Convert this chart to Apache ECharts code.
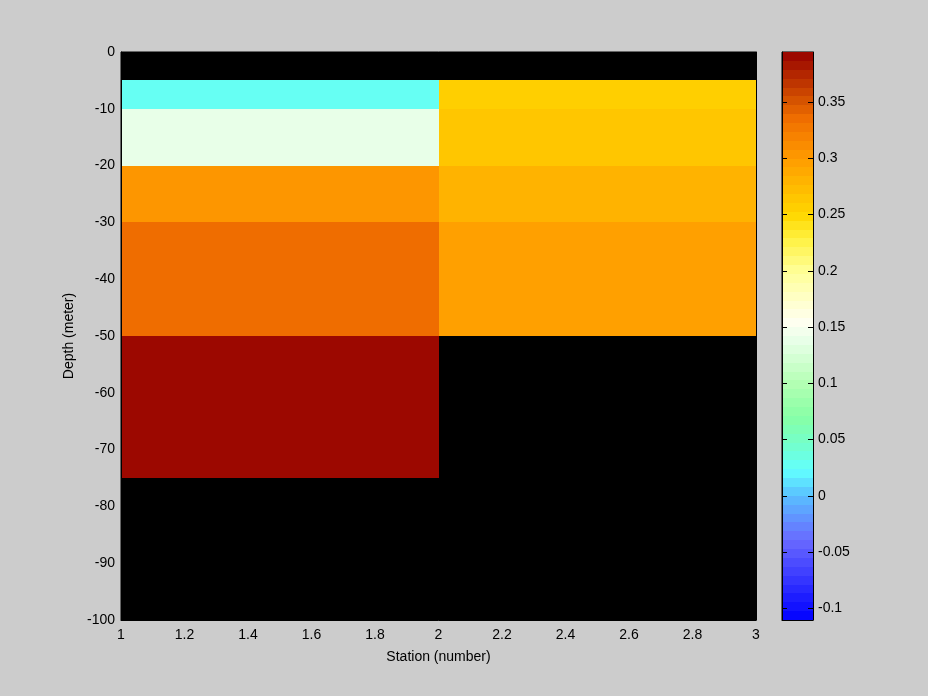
<!DOCTYPE html>
<html>
<head>
<meta charset="utf-8">
<script src="https://cdn.jsdelivr.net/npm/echarts@6/dist/echarts.min.js"></script>
<style>
html,body{margin:0;padding:0;background:#cccccc;}
#chart{width:928px;height:696px;}
</style>
</head>
<body>
<div id="chart"></div>
<script>
// ---- data ----
const stationEdges = [1, 2, 3];
const depthEdges = [0, -5, -10, -20, -30, -50, -75, -100];
const station1Values = [null, 0.024, 0.14, 0.307, 0.335, 0.39, null];
const station2Values = [null, 0.255, 0.268, 0.28, 0.297, null, null];
const xTickValues = [1, 1.2, 1.4, 1.6, 1.8, 2, 2.2, 2.4, 2.6, 2.8, 3];
const yTickValues = [0, -10, -20, -30, -40, -50, -60, -70, -80, -90, -100];
const colorbarTicks = [-0.1, -0.05, 0, 0.05, 0.1, 0.15, 0.2, 0.25, 0.3, 0.35];
const cMin = -0.1104;
const cMax = 0.3946;

// ---- colormap (64 levels, interpolated between anchor colours) ----
const anchors = [
  [-0.1104, [0, 0, 255]],
  [-0.04, [105, 105, 255]],
  [0.0, [90, 190, 255]],
  [0.022, [98, 255, 255]],
  [0.045, [115, 255, 205]],
  [0.07, [135, 255, 165]],
  [0.10, [180, 255, 180]],
  [0.14, [235, 255, 235]],
  [0.155, [255, 255, 240]],
  [0.2, [255, 255, 150]],
  [0.23, [255, 240, 60]],
  [0.25, [255, 215, 0]],
  [0.3, [255, 155, 0]],
  [0.335, [240, 110, 0]],
  [0.35, [215, 85, 0]],
  [0.3946, [150, 0, 0]]
];
const NLEV = 64;
function interpColor(v) {
  if (v <= anchors[0][0]) return anchors[0][1];
  for (let i = 1; i < anchors.length; i++) {
    if (v <= anchors[i][0]) {
      const a = anchors[i - 1], b = anchors[i];
      const t = (v - a[0]) / (b[0] - a[0]);
      return a[1].map((c, k) => Math.round(c + (b[1][k] - c) * t));
    }
  }
  return anchors[anchors.length - 1][1];
}
const cmap = [];
for (let i = 0; i < NLEV; i++) {
  const v = cMin + (i + 0.5) * (cMax - cMin) / NLEV;
  const c = interpColor(v);
  cmap.push('rgb(' + c.join(',') + ')');
}
function levelOf(v) {
  let idx = Math.floor((v - cMin) / (cMax - cMin) * NLEV);
  return Math.max(0, Math.min(NLEV - 1, idx));
}

// ---- cells ----
const columns = [station1Values, station2Values];
const cells = [];
columns.forEach((vals, ci) => {
  vals.forEach((v, ri) => {
    if (v === null) return;
    cells.push([stationEdges[ci], stationEdges[ci + 1], depthEdges[ri], depthEdges[ri + 1], v]);
  });
});
const barCells = [];
for (let i = 0; i < NLEV; i++) {
  barCells.push([0, 1, cMin + i * (cMax - cMin) / NLEV, cMin + (i + 1) * (cMax - cMin) / NLEV, i]);
}

const FONT = 'Liberation Sans';
const labelStyle = {color: '#000', fontFamily: FONT, fontSize: 14};

function rectItem(params, api, color) {
  const p0 = api.coord([api.value(0), api.value(2)]);
  const p1 = api.coord([api.value(1), api.value(3)]);
  const x0 = Math.round(Math.min(p0[0], p1[0])), x1 = Math.round(Math.max(p0[0], p1[0]));
  const y0 = Math.round(Math.min(p0[1], p1[1])), y1 = Math.round(Math.max(p0[1], p1[1]));
  return {
    type: 'rect',
    shape: {x: x0, y: y0, width: x1 - x0, height: y1 - y0},
    style: {fill: color, stroke: null}
  };
}

const chart = echarts.init(document.getElementById('chart'), null, {renderer: 'canvas'});
const tickStyle = {show: true, inside: true, length: 5, lineStyle: {color: '#000'}};
const lineOnly = {show: true, onZero: false, lineStyle: {color: '#000'}};
chart.setOption({
  backgroundColor: '#cccccc',
  animation: false,
  grid: [
    {left: 121, top: 52, width: 635, height: 568, show: true, backgroundColor: '#000', borderColor: '#000', borderWidth: 1},
    {left: 782, top: 52, width: 31, height: 568, show: true, backgroundColor: 'transparent', borderColor: '#000', borderWidth: 1}
  ],
  xAxis: [
    {
      type: 'value', gridIndex: 0, min: 1, max: 3, interval: 0.2, position: 'bottom', z: 10,
      name: 'Station (number)', nameLocation: 'middle', nameGap: 30,
      nameTextStyle: labelStyle,
      axisLine: lineOnly,
      axisTick: {show: false},
      axisLabel: Object.assign({margin: 8}, labelStyle),
      splitLine: {show: false}
    },
    {
      type: 'value', gridIndex: 1, min: 0, max: 1, position: 'bottom', z: 10,
      axisLine: lineOnly, axisTick: {show: false}, axisLabel: {show: false}, splitLine: {show: false}
    }
  ],
  yAxis: [
    {
      type: 'value', gridIndex: 0, min: -100, max: 0, interval: 10, position: 'left', z: 10,
      name: 'Depth (meter)', nameLocation: 'middle', nameGap: 43,
      nameTextStyle: labelStyle,
      axisLine: lineOnly,
      axisTick: {show: false},
      axisLabel: Object.assign({margin: 6}, labelStyle),
      splitLine: {show: false}
    },
    {
      type: 'value', gridIndex: 1, min: cMin, max: cMax, position: 'right', z: 10,
      axisLine: lineOnly,
      axisTick: Object.assign({customValues: colorbarTicks}, tickStyle),
      axisLabel: Object.assign({margin: 5, customValues: colorbarTicks}, labelStyle),
      splitLine: {show: false}
    },
    {
      type: 'value', gridIndex: 1, min: cMin, max: cMax, position: 'left', z: 10,
      axisLine: lineOnly,
      axisTick: Object.assign({customValues: colorbarTicks}, tickStyle),
      axisLabel: {show: false},
      splitLine: {show: false}
    },
    {
      type: 'value', gridIndex: 0, min: -100, max: 0, position: 'right', z: 10,
      axisLine: lineOnly, axisTick: {show: false}, axisLabel: {show: false}, splitLine: {show: false}
    }
  ],
  series: [
    {
      type: 'custom', xAxisIndex: 0, yAxisIndex: 0,
      data: cells,
      renderItem: function (params, api) {
        return rectItem(params, api, cmap[levelOf(api.value(4))]);
      },
      z: 1
    },
    {
      type: 'custom', xAxisIndex: 1, yAxisIndex: 1,
      data: barCells,
      renderItem: function (params, api) {
        return rectItem(params, api, cmap[api.value(4)]);
      },
      z: 1
    }
  ]
});
</script>
</body>
</html>
